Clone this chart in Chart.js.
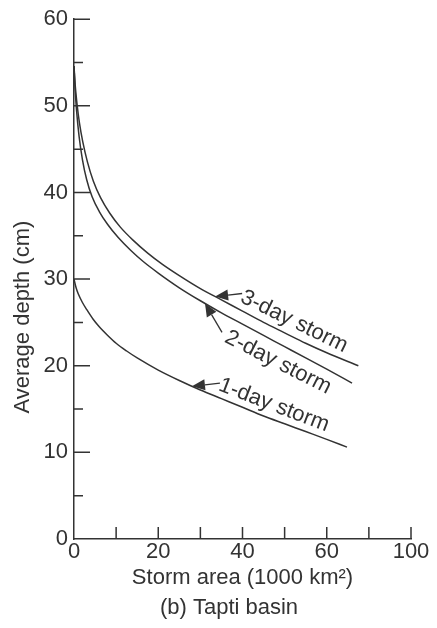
<!DOCTYPE html>
<html>
<head>
<meta charset="utf-8">
<script src="https://cdn.jsdelivr.net/npm/chart.js@4.4.1/dist/chart.umd.min.js"></script>
<style>
  html, body { margin: 0; padding: 0; background: #fff; }
  canvas { display: block; }
</style>
</head>
<body>
<canvas id="ddaChart" width="437" height="628"></canvas>
<script>
// depth-area curves, storm area in 1000 km2, depth in cm
const area1Day = [0, 0.5, 1, 2, 3, 4.5, 6, 8, 10, 12.5, 15, 20, 25, 30, 35, 40, 45, 50, 55, 60, 64.8];
const depth1Day = [30.0, 29.0, 28.3, 27.3, 26.5, 25.4, 24.5, 23.5, 22.6, 21.7, 20.9, 19.5, 18.3, 17.2, 16.2, 15.2, 14.2, 13.3, 12.4, 11.5, 10.6];

const area2Day = [0, 0.25, 0.6, 1.2, 2, 3, 4.3, 6, 8, 10.5, 13.5, 16.5, 20, 25, 30, 35, 40, 45, 50, 55, 60, 66];
const depth2Day = [54.6, 52.0, 49.5, 46.5, 43.8, 41.5, 39.5, 37.8, 36.3, 34.8, 33.3, 32.0, 30.7, 29.0, 27.5, 26.1, 24.8, 23.5, 22.2, 20.9, 19.6, 18.0];

const area3Day = [0, 0.3, 0.7, 1.3, 2.1, 3.2, 4.6, 6.3, 8.5, 11, 14, 17.5, 21, 25, 30, 35, 40, 45, 50, 55, 60, 67.5];
const depth3Day = [54.6, 52.3, 50.3, 48.0, 45.8, 43.5, 41.3, 39.4, 37.6, 36.0, 34.5, 33.0, 31.7, 30.4, 28.9, 27.6, 26.3, 25.0, 23.8, 22.6, 21.5, 20.0];

const stormNames = ['1-day storm', '2-day storm', '3-day storm'];

const xTicks = [0, 10, 20, 30, 40, 50, 60, 70, 80];
const xTickLabels = ['0', '', '20', '', '40', '', '60', '', '100'];
const yTicks = [0, 5, 10, 15, 20, 25, 30, 35, 40, 45, 50, 55, 60];
const yTickLabels = ['0', '', '10', '', '20', '', '30', '', '40', '', '50', '', '60'];

const ink = '#333';
const family = "'Liberation Sans', Arial, sans-serif";

const series = [
  { xs: area1Day, ys: depth1Day },
  { xs: area2Day, ys: depth2Day },
  { xs: area3Day, ys: depth3Day }
];

// arrow callouts: which curve, where the arrow touches it, pixel offsets for tail and text
const callouts = [
  { idx: 2, at: 33.5, tail: [27, -3], text: [79, 25], angle: 26 },
  { idx: 1, at: 31.1, tail: [17, 29], text: [73, 59], angle: 27 },
  { idx: 0, at: 28.0, tail: [28, -3], text: [82, 19], angle: 21 }
];

function depthAt(s, x) {
  for (let i = 1; i < s.xs.length; i++) {
    if (x <= s.xs[i]) {
      const t = (x - s.xs[i - 1]) / (s.xs[i] - s.xs[i - 1]);
      return s.ys[i - 1] + t * (s.ys[i] - s.ys[i - 1]);
    }
  }
  return s.ys[s.ys.length - 1];
}

const decorations = {
  id: 'decorations',
  afterDraw(chart) {
    const { ctx, chartArea, scales: { x, y } } = chart;
    ctx.save();

    // inward tick marks
    ctx.strokeStyle = ink;
    ctx.lineWidth = 1.5;
    ctx.beginPath();
    y.ticks.forEach(t => {
      if (t.value === 0) return;
      const py = y.getPixelForValue(t.value);
      const len = t.value % 10 === 0 ? 16 : 9;
      ctx.moveTo(chartArea.left, py);
      ctx.lineTo(chartArea.left + len, py);
    });
    x.ticks.forEach(t => {
      if (t.value === 0) return;
      const px = x.getPixelForValue(t.value);
      ctx.moveTo(px, chartArea.bottom);
      ctx.lineTo(px, chartArea.bottom - 12);
    });
    ctx.stroke();

    ctx.fillStyle = ink;
    ctx.font = '22px ' + family;
    ctx.textAlign = 'center';
    ctx.textBaseline = 'middle';

    // y axis title
    ctx.save();
    ctx.translate(chartArea.left - 51, (chartArea.top + chartArea.bottom) / 2 + 38);
    ctx.rotate(-Math.PI / 2);
    ctx.fillText('Average depth (cm)', 0, 0);
    ctx.restore();

    // caption under the axis title
    ctx.fillText('(b) Tapti basin', chartArea.left + 155, chartArea.bottom + 69);

    // curve labels with arrows
    ctx.lineWidth = 1.3;
    callouts.forEach(c => {
      const tx = x.getPixelForValue(c.at);
      const ty = y.getPixelForValue(depthAt(series[c.idx], c.at));
      const sx = tx + c.tail[0];
      const sy = ty + c.tail[1];
      const ang = Math.atan2(ty - sy, tx - sx);
      const head = 13, half = 5.5;
      const bx = tx - head * Math.cos(ang);
      const by = ty - head * Math.sin(ang);
      ctx.beginPath();
      ctx.moveTo(sx, sy);
      ctx.lineTo(bx, by);
      ctx.stroke();
      ctx.beginPath();
      ctx.moveTo(tx, ty);
      ctx.lineTo(bx + half * Math.sin(ang), by - half * Math.cos(ang));
      ctx.lineTo(bx - half * Math.sin(ang), by + half * Math.cos(ang));
      ctx.closePath();
      ctx.fill();

      ctx.save();
      ctx.translate(tx + c.text[0], ty + c.text[1]);
      ctx.rotate(c.angle * Math.PI / 180);
      ctx.fillText(stormNames[c.idx], 0, 0);
      ctx.restore();
    });

    ctx.restore();
  }
};

const textFont = { family: family, size: 22 };

new Chart(document.getElementById('ddaChart'), {
  type: 'line',
  data: {
    datasets: series.map((s, i) => ({
      label: stormNames[i],
      data: s.xs.map((v, j) => ({ x: v, y: s.ys[j] })),
      borderColor: ink,
      borderWidth: 1.5,
      pointRadius: 0,
      fill: false,
      cubicInterpolationMode: 'monotone'
    }))
  },
  options: {
    responsive: false,
    animation: false,
    devicePixelRatio: 1,
    layout: { padding: { left: 0, right: 26, top: 16, bottom: 37 } },
    plugins: {
      legend: { display: false },
      tooltip: { enabled: false }
    },
    scales: {
      x: {
        type: 'linear',
        min: 0,
        max: 80,
        afterBuildTicks: s => { s.ticks = xTicks.map(v => ({ value: v })); },
        afterFit: s => { s.height = 52; },
        grid: { display: false, drawTicks: false },
        border: { display: true, color: ink, width: 1.5 },
        ticks: {
          color: ink,
          font: textFont,
          padding: 0,
          maxRotation: 0,
          autoSkip: false,
          callback: (v, i) => xTickLabels[i]
        },
        title: {
          display: true,
          text: 'Storm area (1000 km²)',
          color: ink,
          font: textFont,
          padding: { top: 0, bottom: 0 }
        }
      },
      y: {
        type: 'linear',
        min: 0,
        max: 60,
        afterBuildTicks: s => { s.ticks = yTicks.map(v => ({ value: v })); },
        afterFit: s => { s.width = 74; },
        grid: { display: false, drawTicks: false },
        border: { display: true, color: ink, width: 1.5 },
        ticks: {
          color: ink,
          font: textFont,
          padding: 6,
          autoSkip: false,
          callback: (v, i) => yTickLabels[i]
        }
      }
    }
  },
  plugins: [decorations]
});
</script>
</body>
</html>
